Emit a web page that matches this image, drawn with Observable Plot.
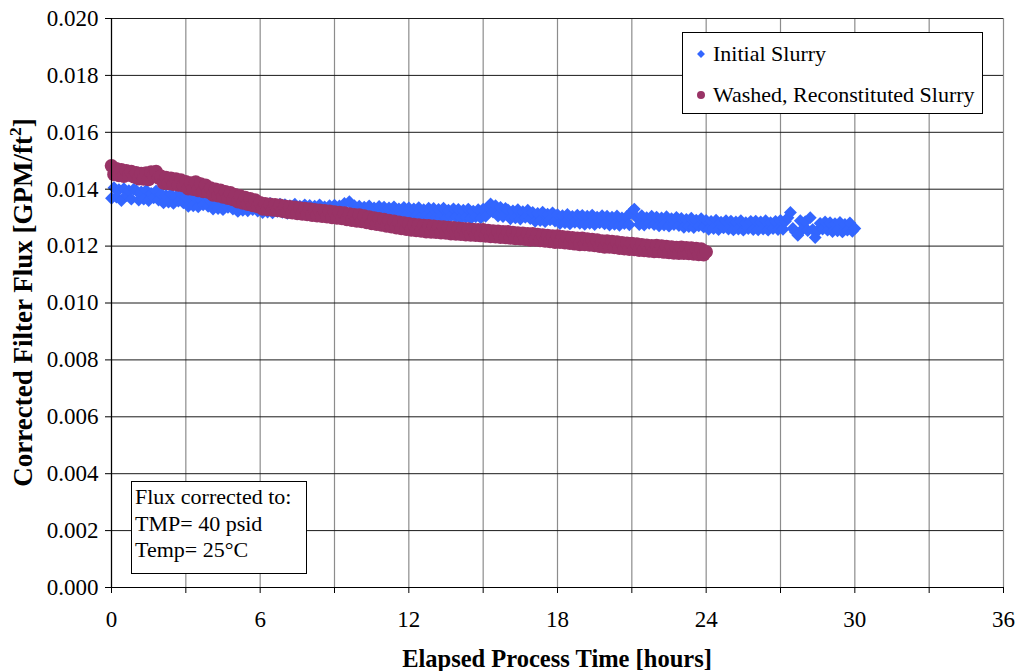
<!DOCTYPE html>
<html>
<head>
<meta charset="utf-8">
<script src="https://cdn.jsdelivr.net/npm/d3@7"></script>
<script src="https://cdn.jsdelivr.net/npm/@observablehq/plot@0.6"></script>
<style>
  html, body { margin: 0; padding: 0; background: #fff; }
  #chart svg { display: block; }
</style>
</head>
<body>
<div id="chart"></div>
<script>
// Logged filter flux, one reading every 0.1 h (GPM/ft², corrected to 40 psid, 25 °C)
const sampleInterval = 0.1;

// Initial slurry, 0 – 30 h
const initialSlurry = [
  0.01368, 0.01405, 0.01372, 0.01398, 0.01360, 0.01402, 0.01378, 0.01395, 0.01365, 0.01400,
  0.01395, 0.01362, 0.01390, 0.01365, 0.01396, 0.01360, 0.01385, 0.01370, 0.01394, 0.01362,
  0.01384, 0.01352, 0.01378, 0.01355, 0.01382, 0.01350, 0.01374, 0.01358, 0.01383, 0.01352,
  0.01372, 0.01340, 0.01368, 0.01342, 0.01370, 0.01338, 0.01362, 0.01345, 0.01371, 0.01340,
  0.01360, 0.01330, 0.01358, 0.01332, 0.01362, 0.01328, 0.01352, 0.01336, 0.01360, 0.01330,
  0.01354, 0.01322, 0.01350, 0.01326, 0.01355, 0.01324, 0.01346, 0.01328, 0.01352, 0.01323,
  0.01348, 0.01318, 0.01346, 0.01320, 0.01350, 0.01317, 0.01342, 0.01322, 0.01347, 0.01319,
  0.01346, 0.01315, 0.01342, 0.01318, 0.01347, 0.01314, 0.01340, 0.01320, 0.01345, 0.01316,
  0.01343, 0.01313, 0.01340, 0.01316, 0.01345, 0.01312, 0.01338, 0.01318, 0.01342, 0.01314,
  0.01344, 0.01312, 0.01341, 0.01316, 0.01350, 0.01318, 0.01356, 0.01320, 0.01342, 0.01313,
  0.01340, 0.01309, 0.01337, 0.01312, 0.01341, 0.01308, 0.01334, 0.01314, 0.01339, 0.01310,
  0.01337, 0.01306, 0.01334, 0.01309, 0.01338, 0.01305, 0.01331, 0.01311, 0.01336, 0.01307,
  0.01334, 0.01303, 0.01331, 0.01306, 0.01335, 0.01302, 0.01328, 0.01308, 0.01333, 0.01304,
  0.01332, 0.01301, 0.01329, 0.01304, 0.01333, 0.01300, 0.01326, 0.01306, 0.01331, 0.01302,
  0.01329, 0.01298, 0.01326, 0.01301, 0.01330, 0.01297, 0.01323, 0.01303, 0.01328, 0.01299,
  0.01330, 0.01305, 0.01338, 0.01348, 0.01320, 0.01342, 0.01306, 0.01336, 0.01304, 0.01332,
  0.01327, 0.01296, 0.01324, 0.01299, 0.01328, 0.01295, 0.01321, 0.01301, 0.01326, 0.01297,
  0.01318, 0.01287, 0.01315, 0.01290, 0.01319, 0.01286, 0.01312, 0.01292, 0.01317, 0.01288,
  0.01310, 0.01279, 0.01307, 0.01282, 0.01311, 0.01278, 0.01304, 0.01284, 0.01309, 0.01280,
  0.01308, 0.01277, 0.01305, 0.01280, 0.01309, 0.01276, 0.01302, 0.01282, 0.01307, 0.01278,
  0.01305, 0.01274, 0.01302, 0.01277, 0.01306, 0.01273, 0.01299, 0.01279, 0.01304, 0.01275,
  0.01322, 0.01330, 0.01300, 0.01276, 0.01307, 0.01274, 0.01300, 0.01280, 0.01305, 0.01276,
  0.01302, 0.01271, 0.01299, 0.01274, 0.01303, 0.01270, 0.01296, 0.01276, 0.01301, 0.01272,
  0.01297, 0.01266, 0.01294, 0.01269, 0.01298, 0.01265, 0.01291, 0.01271, 0.01296, 0.01267,
  0.01290, 0.01259, 0.01287, 0.01262, 0.01291, 0.01258, 0.01284, 0.01264, 0.01289, 0.01260,
  0.01288, 0.01257, 0.01285, 0.01260, 0.01289, 0.01256, 0.01282, 0.01262, 0.01287, 0.01258,
  0.01288, 0.01257, 0.01285, 0.01260, 0.01289, 0.01256, 0.01282, 0.01262, 0.01287, 0.01258,
  0.01290, 0.01259, 0.01287, 0.01300, 0.01318, 0.01262, 0.01250, 0.01238, 0.01289, 0.01260,
  0.01286, 0.01255, 0.01300, 0.01258, 0.01230, 0.01254, 0.01280, 0.01260, 0.01285, 0.01256,
  0.01282, 0.01251, 0.01279, 0.01254, 0.01283, 0.01250, 0.01276, 0.01256, 0.01281, 0.01252,
  0.01262
];

// Washed, reconstituted slurry, 0 – 24 h
const washedSlurry = [
  0.01482, 0.01452, 0.01472, 0.01448, 0.01468, 0.01446, 0.01465, 0.01450, 0.01462, 0.01444,
  0.01458, 0.01437, 0.01455, 0.01436, 0.01457, 0.01434, 0.01460, 0.01448, 0.01462, 0.01440,
  0.01445, 0.01422, 0.01441, 0.01420, 0.01438, 0.01418, 0.01436, 0.01415, 0.01432, 0.01412,
  0.01426, 0.01402, 0.01422, 0.01400, 0.01425, 0.01396, 0.01418, 0.01392, 0.01414, 0.01390,
  0.01404, 0.01380, 0.01400, 0.01377, 0.01396, 0.01373, 0.01391, 0.01368, 0.01387, 0.01364,
  0.01380, 0.01356, 0.01376, 0.01352, 0.01371, 0.01347, 0.01366, 0.01343, 0.01362, 0.01339,
  0.01352, 0.01331, 0.01349, 0.01329, 0.01347, 0.01327, 0.01345, 0.01325, 0.01343, 0.01323,
  0.01340, 0.01319, 0.01338, 0.01317, 0.01336, 0.01315, 0.01334, 0.01313, 0.01332, 0.01311,
  0.01330, 0.01309, 0.01328, 0.01307, 0.01326, 0.01305, 0.01324, 0.01303, 0.01322, 0.01301,
  0.01320, 0.01299, 0.01318, 0.01297, 0.01316, 0.01294, 0.01313, 0.01291, 0.01310, 0.01288,
  0.01309, 0.01287, 0.01306, 0.01283, 0.01302, 0.01280, 0.01299, 0.01277, 0.01296, 0.01274,
  0.01293, 0.01271, 0.01290, 0.01268, 0.01287, 0.01265, 0.01284, 0.01262, 0.01281, 0.01259,
  0.01278, 0.01257, 0.01276, 0.01255, 0.01274, 0.01253, 0.01272, 0.01251, 0.01271, 0.01250,
  0.01270, 0.01249, 0.01268, 0.01247, 0.01267, 0.01246, 0.01265, 0.01244, 0.01264, 0.01243,
  0.01263, 0.01242, 0.01261, 0.01240, 0.01260, 0.01239, 0.01258, 0.01238, 0.01257, 0.01237,
  0.01257, 0.01236, 0.01255, 0.01234, 0.01253, 0.01233, 0.01252, 0.01231, 0.01250, 0.01230,
  0.01250, 0.01229, 0.01248, 0.01227, 0.01246, 0.01226, 0.01245, 0.01224, 0.01243, 0.01222,
  0.01243, 0.01222, 0.01241, 0.01220, 0.01239, 0.01218, 0.01237, 0.01216, 0.01235, 0.01214,
  0.01235, 0.01214, 0.01233, 0.01212, 0.01231, 0.01210, 0.01229, 0.01208, 0.01227, 0.01206,
  0.01227, 0.01206, 0.01225, 0.01204, 0.01223, 0.01202, 0.01221, 0.01200, 0.01218, 0.01197,
  0.01218, 0.01197, 0.01216, 0.01195, 0.01214, 0.01193, 0.01212, 0.01191, 0.01210, 0.01189,
  0.01209, 0.01188, 0.01207, 0.01186, 0.01205, 0.01185, 0.01203, 0.01183, 0.01201, 0.01181,
  0.01202, 0.01181, 0.01200, 0.01179, 0.01198, 0.01178, 0.01197, 0.01176, 0.01195, 0.01175,
  0.01196, 0.01175, 0.01194, 0.01174, 0.01193, 0.01172, 0.01191, 0.01171, 0.01190, 0.01170,
  0.01180
];

// Axis ticks
const xTicks = [0, 3, 6, 9, 12, 15, 18, 21, 24, 27, 30, 33, 36];
const xLabelled = [0, 6, 12, 18, 24, 30, 36];
const yTicks = [0, 0.002, 0.004, 0.006, 0.008, 0.010, 0.012, 0.014, 0.016, 0.018, 0.020];

const seriesNames = ["Initial Slurry", "Washed, Reconstituted Slurry"];
const seriesColors = ["#3366FF", "#993366"];
const noteLines = ["Flux corrected to:", "TMP= 40 psid", "Temp= 25°C"];

const toRows = values => values.map((flux, i) => ({hours: +(i * sampleInterval).toFixed(2), flux}));
const initialRows = toRows(initialSlurry);
const washedRows = toRows(washedSlurry);

const serif = "'Liberation Serif', 'Times New Roman', Times, serif";
const W = 1016, H = 671;
const mL = 111, mR = 13, mT = 18, mB = 84;

const chart = Plot.plot({
  width: W,
  height: H,
  marginLeft: mL,
  marginRight: mR,
  marginTop: mT,
  marginBottom: mB,
  style: {fontFamily: serif, fontSize: "23px", background: "#fff", color: "#000"},
  x: {domain: [0, 36]},
  y: {domain: [0, 0.020]},
  marks: [
    Plot.gridX(xTicks, {stroke: "#8c8c8c", strokeOpacity: 1, strokeWidth: 1.2}),
    Plot.gridY(yTicks, {stroke: "#1a1a1a", strokeOpacity: 1, strokeWidth: 1}),
    Plot.dot(initialRows, {x: "hours", y: "flux", symbol: "diamond2", r: 5.8, fill: seriesColors[0]}),
    Plot.dot(washedRows, {x: "hours", y: "flux", symbol: "circle", r: 6.8, fill: seriesColors[1]}),
    Plot.ruleX([0], {stroke: "#000", strokeWidth: 1.2}),
    Plot.ruleY([0], {stroke: "#000", strokeWidth: 1.2}),
    Plot.axisX(xTicks, {
      tickSize: 6, tickPadding: 17, stroke: "#000",
      tickFormat: d => xLabelled.includes(d) ? String(d) : "",
      label: null
    }),
    Plot.axisY(yTicks, {
      tickSize: 6, tickPadding: 7, stroke: "#000",
      tickFormat: d3.format(".3f"),
      label: null
    })
  ]
});

const svg = d3.select(chart);

// Axis titles
svg.append("text")
  .attr("x", mL + (W - mL - mR) / 2)
  .attr("y", 667)
  .attr("text-anchor", "middle")
  .attr("font-family", serif)
  .attr("font-weight", "bold")
  .attr("font-size", 24.5)
  .attr("fill", "#000")
  .text("Elapsed Process Time [hours]");

const yTitle = svg.append("text")
  .attr("transform", `translate(32, ${mT + (H - mT - mB) / 2}) rotate(-90)`)
  .attr("text-anchor", "middle")
  .attr("font-family", serif)
  .attr("font-weight", "bold")
  .attr("font-size", 27)
  .attr("fill", "#000");
yTitle.append("tspan").text("Corrected Filter Flux [GPM/ft");
yTitle.append("tspan").attr("font-size", 17.5).attr("dy", -11).text("2");
yTitle.append("tspan").attr("dy", 11).text("]");

// Legend box
const legend = svg.append("g")
  .attr("font-family", serif).attr("font-size", 22).attr("text-anchor", "start");
legend.append("rect")
  .attr("x", 682.5).attr("y", 32.5).attr("width", 300).attr("height", 81)
  .attr("fill", "#fff").attr("stroke", "#000").attr("stroke-width", 1);
const legendSymbols = [d3.symbolDiamond2, d3.symbolCircle];
const legendY = [54, 95];
seriesNames.forEach((name, i) => {
  legend.append("path")
    .attr("d", d3.symbol(legendSymbols[i], i === 0 ? 40 : 50)())
    .attr("transform", `translate(701, ${legendY[i]})`)
    .attr("fill", seriesColors[i]);
  legend.append("text")
    .attr("x", 713).attr("y", legendY[i]).attr("dy", "0.34em")
    .attr("fill", "#000")
    .text(name);
});

// Correction conditions note
const note = svg.append("g")
  .attr("font-family", serif).attr("font-size", 22).attr("text-anchor", "start");
note.append("rect")
  .attr("x", 131.5).attr("y", 481.5).attr("width", 175).attr("height", 92)
  .attr("fill", "#fff").attr("stroke", "#000").attr("stroke-width", 1);
noteLines.forEach((line, i) => {
  note.append("text")
    .attr("x", 135).attr("y", 497 + i * 26.5).attr("dy", "0.34em")
    .attr("fill", "#000")
    .text(line);
});

document.getElementById("chart").appendChild(chart);
</script>
</body>
</html>
